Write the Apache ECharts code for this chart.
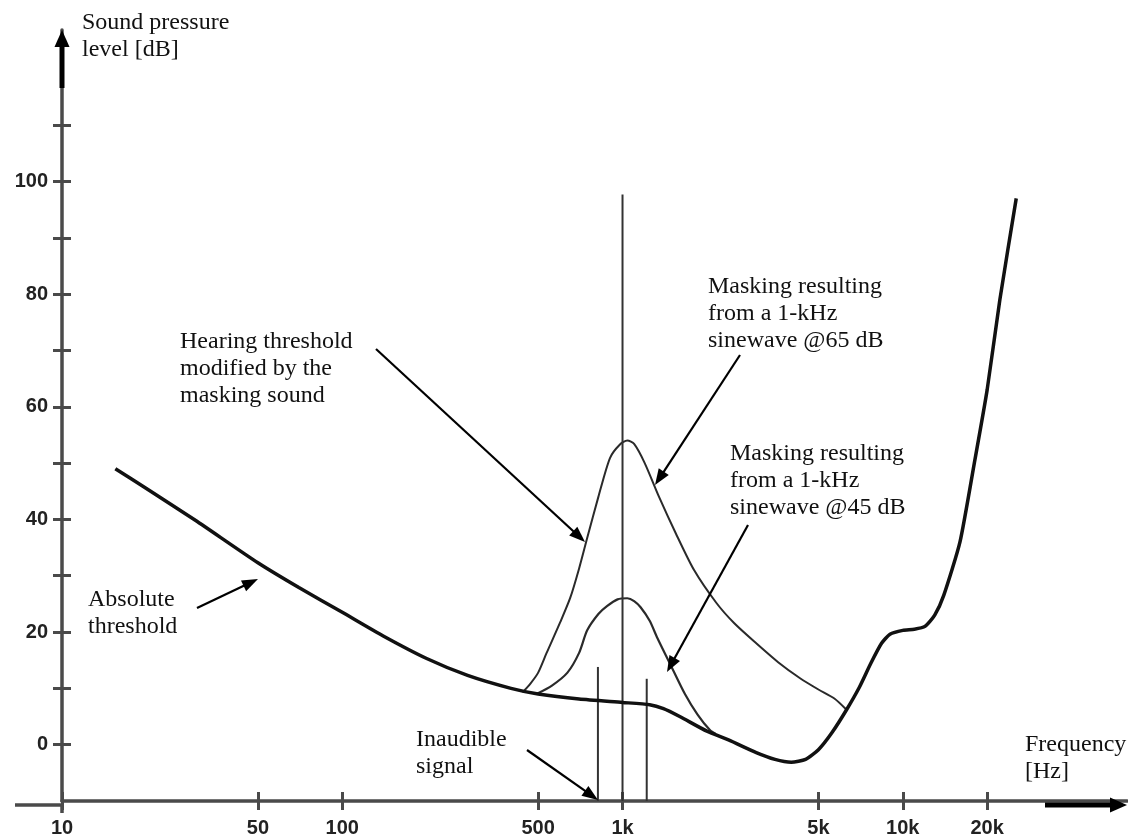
<!DOCTYPE html>
<html><head><meta charset="utf-8">
<script src="https://cdn.jsdelivr.net/npm/echarts@6/dist/echarts.min.js"></script>
<style>html,body{margin:0;padding:0;background:#fff}#c{width:1128px;height:838px}</style>
</head><body><div id="c"></div>
<script>
// ---- data (frequency in Hz, level in dB) ----
const freqTicks = [10, 50, 100, 500, 1000, 5000, 10000, 20000];
const freqTickLabels = ['10', '50', '100', '500', '1k', '5k', '10k', '20k'];
const dbTicks = [0, 10, 20, 30, 40, 50, 60, 70, 80, 90, 100, 110];
const dbTickLabels = [0, 20, 40, 60, 80, 100];

const absThreshold = [
  [15.5, 49], [20, 45.5], [30, 39.8], [50, 32.3], [70, 27.9], [100, 23.5], [140, 19.3],
  [200, 15.3], [280, 12.3], [400, 10.0], [500, 9.0], [700, 8.1], [1000, 7.5], [1250, 7.1],
  [1400, 6.4], [1600, 5.0], [2000, 2.4], [2400, 0.8], [3000, -1.4], [3500, -2.6],
  [4000, -3.1], [4500, -2.6], [5000, -0.9], [5600, 2.2], [6300, 6.2], [7000, 10.2],
  [7700, 14.5], [8400, 18], [9000, 19.6], [10000, 20.3], [11000, 20.5], [12000, 21],
  [13000, 23], [14000, 26.5], [16000, 36], [18000, 50], [20000, 63], [22200, 79], [25400, 97]
];
const masking65 = [
  [440, 9.3], [470, 10.9], [500, 12.8], [535, 16.2], [600, 21.8], [651, 26.1], [700, 31.3],
  [748, 36.7], [820, 44], [902, 50.9], [979, 53.3], [1040, 54], [1100, 53.4], [1200, 50],
  [1350, 44], [1550, 37.5], [1800, 31], [2160, 25.2], [2500, 21.6], [3000, 18], [3600, 14.6],
  [4300, 11.8], [5000, 9.8], [5700, 8.2], [6300, 6.2]
];
const masking45 = [
  [493, 9], [560, 10.5], [636, 12.8], [700, 16.3], [748, 20.3], [820, 23.2], [880, 24.6],
  [960, 25.8], [1040, 26], [1100, 25.5], [1160, 24.4], [1250, 22], [1330, 19], [1480, 14.3],
  [1670, 9], [1850, 5.4], [2050, 2.6], [2150, 1.9]
];
const maskerTone = [[1000, -10], [1000, 97.7]];
const signalLow = [[817, -10], [817, 13.8]];
const signalHigh = [[1220, -10], [1220, 11.7]];

// ---- chart ----
const axisGray = '#4a4a4a';
const chart = echarts.init(document.getElementById('c'));
const labelFont = { fontFamily: 'Liberation Sans', fontWeight: 'bold', fontSize: 20, color: '#222' };

function xAx(inside, show) {
  return {
    type: 'log', min: 10, max: 63100, logBase: 10, position: 'bottom',
    axisLine: { show: show, onZero: false, lineStyle: { color: axisGray, width: 3.5 } },
    axisTick: { show: true, inside: inside, length: 9, customValues: freqTicks,
                lineStyle: { color: axisGray, width: 3 } },
    axisLabel: { show: show, customValues: freqTicks, margin: 17, ...labelFont,
      formatter: v => { const i = freqTicks.findIndex(t => Math.abs(t - v) / t < 1e-6); return i >= 0 ? freqTickLabels[i] : ''; } },
    splitLine: { show: false }, minorTick: { show: false }
  };
}
function yAx(inside, show) {
  return {
    type: 'value', min: -10, max: 126.9, position: 'left',
    axisLine: { show: show, onZero: false, lineStyle: { color: axisGray, width: 3.5 } },
    axisTick: { show: true, inside: inside, length: 9, customValues: dbTicks,
                lineStyle: { color: axisGray, width: 3 } },
    axisLabel: { show: show, customValues: dbTickLabels, margin: 14, ...labelFont },
    splitLine: { show: false }
  };
}

function lineSeries(name, data, width, color, smooth) {
  return { name, type: 'line', data, showSymbol: false, symbol: 'none', smooth: smooth,
           lineStyle: { width, color }, silent: true, animation: false, z: 3 };
}

chart.setOption({
  animation: false,
  backgroundColor: '#fff',
  grid: { left: 62, right: 1, top: 30, bottom: 33, containLabel: false },
  xAxis: [xAx(false, true), xAx(true, false)],
  yAxis: [yAx(false, true), yAx(true, false)],
  series: [
    lineSeries('Masking 65 dB', masking65, 2, '#2a2a2a', 0.25),
    lineSeries('Masking 45 dB', masking45, 2.2, '#2a2a2a', 0.25),
    lineSeries('Masker 1 kHz', maskerTone, 2, '#333', false),
    lineSeries('Inaudible signal', signalLow, 2, '#333', false),
    lineSeries('Signal 2', signalHigh, 2, '#333', false),
    lineSeries('Absolute threshold', absThreshold, 3.5, '#111', 0.2)
  ]
});

// ---- annotations (text + arrows) ----
const serif = '24px "Liberation Serif"';
function txt(x, y, text) {
  return { type: 'text', x, y, z: 10, style: { text, font: serif, fill: '#111', lineHeight: 27, verticalAlign: 'top' } };
}
function arrow(x1, y1, x2, y2, w, hl, hw) {
  const dx = x2 - x1, dy = y2 - y1, L = Math.hypot(dx, dy), ux = dx / L, uy = dy / L;
  const bx = x2 - ux * hl, by = y2 - uy * hl;
  return [
    { type: 'line', z: 10, shape: { x1, y1, x2: bx + ux * 2, y2: by + uy * 2 }, style: { stroke: '#000', lineWidth: w } },
    { type: 'polygon', z: 10, shape: { points: [[x2, y2], [bx - uy * hw, by + ux * hw], [bx + uy * hw, by - ux * hw]] }, style: { fill: '#000' } }
  ];
}
const g = [];
g.push({ type: 'line', z: 1, shape: { x1: 15, y1: 805, x2: 62, y2: 805 }, style: { stroke: axisGray, lineWidth: 3.5 } });
g.push({ type: 'line', z: 1, shape: { x1: 62, y1: 805, x2: 62, y2: 813 }, style: { stroke: axisGray, lineWidth: 3.5 } });
g.push(...arrow(62, 88, 62, 30, 5, 17, 7.5));
g.push(...arrow(1045, 805, 1127, 805, 5, 17, 7.5));
g.push(txt(82, 9.5, 'Sound pressure\nlevel [dB]'));
g.push(txt(180, 328.5, 'Hearing threshold\nmodified by the\nmasking sound'));
g.push(txt(88, 586.5, 'Absolute\nthreshold'));
g.push(txt(416, 726.5, 'Inaudible\nsignal'));
g.push(txt(1025, 731, 'Frequency\n[Hz]'));
g.push(txt(708, 273.5, 'Masking resulting\nfrom a 1-kHz\nsinewave @65 dB'));
g.push(txt(730, 440.5, 'Masking resulting\nfrom a 1-kHz\nsinewave @45 dB'));
g.push(...arrow(197, 608, 258, 579, 2.2, 16, 6));
g.push(...arrow(376, 349, 585, 542, 2.2, 16, 6));
g.push(...arrow(527, 750, 598, 800, 2.2, 16, 6));
g.push(...arrow(740, 355, 655, 485, 2.2, 16, 6));
g.push(...arrow(748, 525, 667, 672, 2.2, 16, 6));
chart.setOption({ graphic: g });
</script></body></html>
